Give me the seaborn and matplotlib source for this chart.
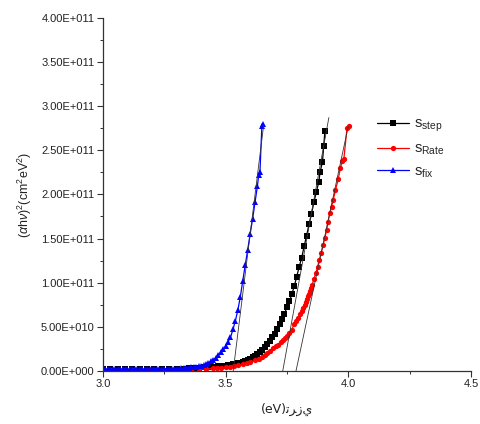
import matplotlib
matplotlib.use("Agg")
import matplotlib.pyplot as plt
import matplotlib.ticker as mticker
import seaborn as sns
import pandas as pd

# ---------------- data (y in units of 1e11) ----------------
step_x = [3.00, 3.03, 3.06, 3.09, 3.12, 3.15, 3.18, 3.21, 3.24, 3.27, 3.30, 3.33, 3.35, 3.37,
          3.39, 3.41, 3.43, 3.45, 3.47, 3.49, 3.50, 3.51, 3.52, 3.53, 3.54, 3.55, 3.56, 3.57,
          3.58, 3.59, 3.60, 3.61, 3.62, 3.63, 3.64, 3.65, 3.66, 3.67, 3.68, 3.69, 3.70, 3.71,
          3.72, 3.73, 3.74, 3.75, 3.76, 3.77, 3.78, 3.79, 3.80, 3.81, 3.82, 3.83, 3.84, 3.85,
          3.86, 3.87, 3.88, 3.885, 3.895, 3.90, 3.905]
step_y = [0.02, 0.02, 0.02, 0.02, 0.02, 0.02, 0.02, 0.02, 0.022, 0.024, 0.025, 0.028, 0.03, 0.033,
          0.036, 0.04, 0.044, 0.048, 0.053, 0.058, 0.062, 0.066, 0.07, 0.075, 0.08, 0.087, 0.095, 0.104,
          0.115, 0.127, 0.14, 0.156, 0.175, 0.195, 0.215, 0.24, 0.27, 0.31, 0.345, 0.38, 0.42, 0.475,
          0.53, 0.59, 0.65, 0.72, 0.79, 0.87, 0.96, 1.07, 1.18, 1.28, 1.41, 1.53, 1.66, 1.78,
          1.91, 2.03, 2.14, 2.25, 2.37, 2.55, 2.72]

rate_x = [3.00, 3.03, 3.06, 3.09, 3.12, 3.15, 3.18, 3.21, 3.24, 3.27, 3.30, 3.33, 3.36, 3.39,
          3.42, 3.448, 3.465, 3.48, 3.50, 3.518, 3.535, 3.55, 3.57, 3.586, 3.60, 3.62, 3.635,
          3.647, 3.66, 3.67, 3.682, 3.694, 3.705, 3.715, 3.725, 3.735, 3.743, 3.75, 3.76, 3.769,
          3.78, 3.788, 3.796, 3.805, 3.811, 3.817, 3.822, 3.827, 3.832, 3.837, 3.841, 3.845, 3.849,
          3.853, 3.86, 3.868, 3.875, 3.882, 3.89, 3.898, 3.905, 3.912, 3.918, 3.925,
          3.932, 3.939, 3.948, 3.959, 3.968, 3.976, 3.982, 3.995, 4.003]
rate_y = [0.01, 0.01, 0.01, 0.01, 0.01, 0.01, 0.01, 0.01, 0.011, 0.012, 0.012, 0.014, 0.016, 0.019,
          0.024, 0.03, 0.034, 0.038, 0.043, 0.049, 0.057, 0.065, 0.076, 0.0875, 0.10, 0.12, 0.14,
          0.163, 0.185, 0.205, 0.23, 0.258, 0.28, 0.30, 0.325, 0.352, 0.375, 0.40, 0.435, 0.466,
          0.53, 0.565, 0.599, 0.65, 0.68, 0.712, 0.745, 0.78, 0.81, 0.844, 0.875, 0.91, 0.945,
          0.977, 1.04, 1.11, 1.18, 1.26, 1.34, 1.43, 1.51, 1.60, 1.69, 1.79,
          1.86, 1.94, 2.05, 2.17, 2.30, 2.38, 2.40, 2.75, 2.77]

fix_x = [3.00, 3.01, 3.02, 3.03, 3.04, 3.05, 3.06, 3.07, 3.08, 3.09, 3.10, 3.11, 3.12, 3.13,
         3.14, 3.15, 3.16, 3.17, 3.18, 3.19, 3.20, 3.21, 3.22, 3.23, 3.24, 3.25, 3.26, 3.27,
         3.28, 3.29, 3.30, 3.31, 3.32, 3.33, 3.34, 3.35, 3.36, 3.37, 3.38, 3.39, 3.40, 3.41,
         3.42, 3.43, 3.44, 3.45, 3.46, 3.47, 3.48, 3.49, 3.50, 3.51, 3.52, 3.53, 3.54, 3.55,
         3.56, 3.57, 3.58, 3.59, 3.60, 3.61, 3.62, 3.63, 3.635, 3.64, 3.648, 3.652]
fix_y = [0.02, 0.02, 0.02, 0.02, 0.02, 0.02, 0.02, 0.02, 0.02, 0.02, 0.02, 0.02, 0.02, 0.02,
         0.02, 0.02, 0.02, 0.02, 0.02, 0.02, 0.02, 0.02, 0.02, 0.02, 0.021, 0.022, 0.022, 0.023,
         0.024, 0.025, 0.026, 0.028, 0.03, 0.032, 0.035, 0.038, 0.042, 0.046, 0.05, 0.055, 0.06,
         0.07, 0.08, 0.095, 0.11, 0.13, 0.15, 0.18, 0.21, 0.245, 0.28, 0.33, 0.38, 0.47, 0.57,
         0.69, 0.84, 1.02, 1.20, 1.37, 1.55, 1.72, 1.91, 2.10, 2.22, 2.25, 2.78, 2.80]

# tangent (extrapolation) lines: start/end points
tan_step_x = [3.733, 3.921]
tan_step_y = [0.0, 2.87]
tan_rate_x = [3.787, 4.000]
tan_rate_y = [0.0, 2.77]
tan_fix_x = [3.531, 3.655]
tan_fix_y = [0.0, 2.78]

y_ticks = [0.0, 0.5, 1.0, 1.5, 2.0, 2.5, 3.0, 3.5, 4.0]
y_tick_labels = ["0.00E+000", "5.00E+010", "1.00E+011", "1.50E+011", "2.00E+011",
                 "2.50E+011", "3.00E+011", "3.50E+011", "4.00E+011"]
x_ticks = [3.0, 3.5, 4.0, 4.5]
x_tick_labels = ["3.0", "3.5", "4.0", "4.5"]

SCALE = 1e11

# ---------------- style ----------------
sns.set_style("ticks")
plt.rcParams["font.family"] = ["Liberation Sans", "DejaVu Sans"]
plt.rcParams["mathtext.fontset"] = "custom"
plt.rcParams["mathtext.rm"] = "Liberation Sans"
plt.rcParams["mathtext.it"] = "Liberation Sans:italic"

fig = plt.figure(figsize=(4.81, 4.24), dpi=100)
ax = fig.add_axes([0.214, 0.125, 0.765, 0.833])

series = [
    (step_x, step_y, "#000000", "s", r"$\mathregular{s_{step}}$"),
    (rate_x, rate_y, "#ff0000", "o", r"$\mathregular{s_{Rate}}$"),
    (fix_x, fix_y, "#0000ff", "^", r"$\mathregular{s_{fix}}$"),
]
for xs, ys, col, mk, lab in series:
    df = pd.DataFrame({"x": xs, "y": [v * SCALE for v in ys]})
    sns.lineplot(data=df, x="x", y="y", ax=ax, color=col, marker=mk, markersize=3.8,
                 markeredgewidth=0, linewidth=0.9, label=lab, sort=False)

for tx, ty in [(tan_step_x, tan_step_y), (tan_rate_x, tan_rate_y), (tan_fix_x, tan_fix_y)]:
    ax.plot(tx, [v * SCALE for v in ty], color="#333333", linewidth=0.6, zorder=5)

ax.set_xlim(3.0, 4.5)
ax.set_ylim(0, 4.0 * SCALE)
ax.xaxis.set_major_locator(mticker.FixedLocator(x_ticks))
ax.xaxis.set_major_formatter(mticker.FixedFormatter(x_tick_labels))
ax.xaxis.set_minor_locator(mticker.MultipleLocator(0.25))
ax.yaxis.set_major_locator(mticker.FixedLocator([v * SCALE for v in y_ticks]))
ax.yaxis.set_major_formatter(mticker.FixedFormatter(y_tick_labels))
ax.yaxis.set_minor_locator(mticker.MultipleLocator(0.25 * SCALE))

for s in ["top", "right"]:
    ax.spines[s].set_visible(False)
for s in ["left", "bottom"]:
    ax.spines[s].set_color("#333333")
    ax.spines[s].set_linewidth(0.9)
ax.tick_params(which="major", direction="out", length=4, width=0.8, color="#333333",
               labelsize=8, labelcolor="#222222", pad=2)
ax.tick_params(which="minor", direction="out", length=2.5, width=0.7, color="#333333")

ax.set_ylabel(r"($\alpha$h$\nu$)$^2$(cm$^2$eV$^2$)", fontsize=9, color="#222222", labelpad=5)
ax.set_xlabel("(eV)\uFE97\uFEAE\uFEAF\uFEF1", fontsize=9, color="#222222", labelpad=10,
              family=["DejaVu Sans"])

leg = ax.legend(loc="upper left", bbox_to_anchor=(0.772, 0.738), bbox_transform=fig.transFigure,
                frameon=False, fontsize=10.5, handlelength=2.2, labelspacing=0.5,
                handletextpad=0.3, borderaxespad=0)

fig.savefig("out.png", dpi=100)
